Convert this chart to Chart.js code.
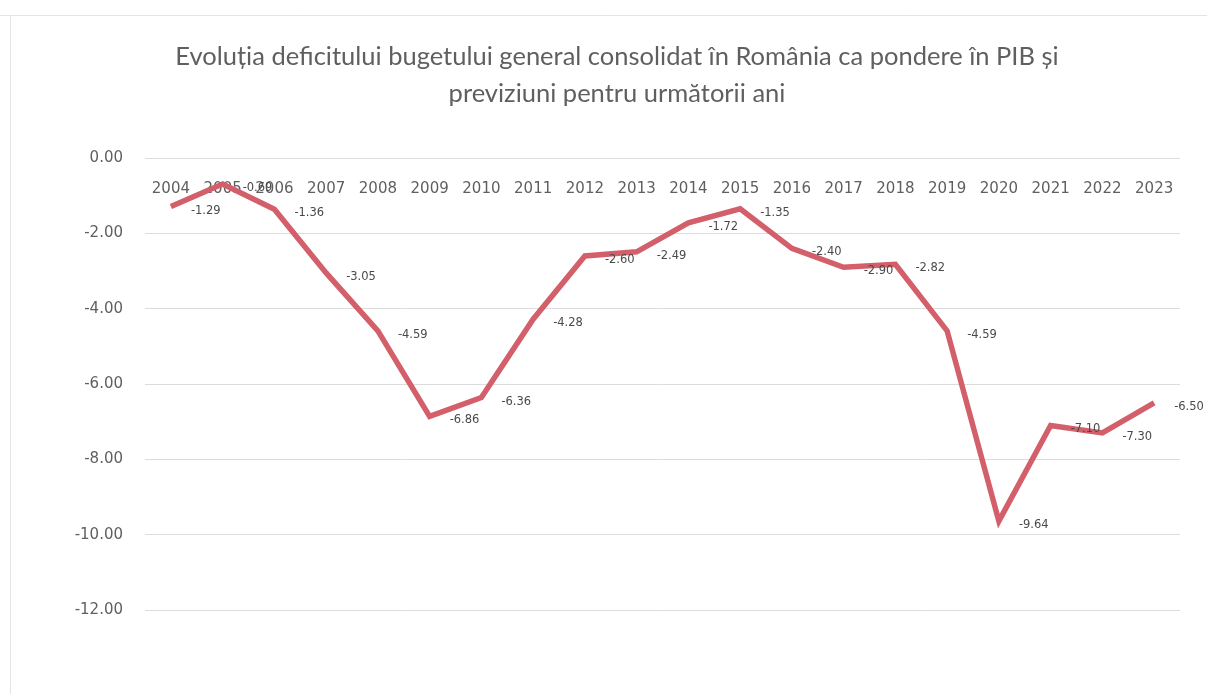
<!DOCTYPE html>
<html>
<head>
<meta charset="utf-8">
<script src="https://cdn.jsdelivr.net/npm/chart.js@4.4.1/dist/chart.umd.min.js"></script>
<style>
html,body{margin:0;padding:0;background:#fff;}
#wrap{position:relative;width:1207px;height:694px;}
</style>
</head>
<body>
<div id="wrap"><canvas id="c" width="1207" height="694"></canvas></div>
<script>
const titleLines = ["Evoluția deficitului bugetului general consolidat în România ca pondere în PIB și", "previziuni pentru următorii ani"];
const years = ["2004","2005","2006","2007","2008","2009","2010","2011","2012","2013","2014","2015","2016","2017","2018","2019","2020","2021","2022","2023"];
const deficit = [-1.29,-0.69,-1.36,-3.05,-4.59,-6.86,-6.36,-4.28,-2.60,-2.49,-1.72,-1.35,-2.40,-2.90,-2.82,-4.59,-9.64,-7.10,-7.30,-6.50];
const yMin = -12, yMax = 0, yStep = 2;

const textGray = '#5f5f5f';

const labelPlugin = {
  id: 'pointLabels',
  afterDatasetsDraw(chart) {
    const ctx = chart.ctx;
    const meta = chart.getDatasetMeta(0);
    ctx.save();
    ctx.font = '11.5px "DejaVu Sans", sans-serif';
    ctx.fillStyle = '#4a4a4a';
    ctx.textAlign = 'left';
    ctx.textBaseline = 'middle';
    meta.data.forEach((pt, i) => {
      ctx.fillText(deficit[i].toFixed(2), pt.x + 20, pt.y + 4);
    });
    ctx.restore();
  }
};

const titlePlugin = {
  id: 'titleText',
  afterDraw(chart) {
    const ctx = chart.ctx;
    ctx.save();
    ctx.font = '25.5px Lato, "Liberation Sans", sans-serif';
    ctx.fillStyle = textGray;
    ctx.textAlign = 'center';
    ctx.textBaseline = 'middle';
    titleLines.forEach((line, i) => ctx.fillText(line, 617, 57 + i * 37));
    ctx.restore();
  }
};

const framePlugin = {
  id: 'frame',
  beforeDraw(chart) {
    const ctx = chart.ctx;
    ctx.save();
    ctx.fillStyle = '#fff';
    ctx.fillRect(0, 0, chart.width, chart.height);
    ctx.strokeStyle = '#e4e4e4';
    ctx.lineWidth = 1;
    ctx.beginPath();
    ctx.moveTo(0, 15.5); ctx.lineTo(chart.width, 15.5);
    ctx.moveTo(10.5, 15); ctx.lineTo(10.5, chart.height);
    ctx.stroke();
    ctx.restore();
  }
};

new Chart(document.getElementById('c'), {
  type: 'line',
  data: {
    labels: years,
    datasets: [{
      data: deficit,
      borderColor: '#d35f6b',
      borderWidth: 5.5,
      pointRadius: 0,
      tension: 0,
      fill: false
    }]
  },
  options: {
    responsive: false,
    animation: false,
    layout: { padding: { left: 0, right: 27, top: 158, bottom: 84 } },
    plugins: {
      legend: { display: false },
      tooltip: { enabled: false },
      title: { display: false }
    },
    scales: {
      x: {
        type: 'category',
        position: { y: 0 },
        offset: true,
        grid: { display: false },
        border: { display: false },
        ticks: {
          color: textGray,
          font: { family: '"DejaVu Sans", sans-serif', size: 15 },
          padding: 14,
          maxRotation: 0,
          autoSkip: false
        }
      },
      y: {
        min: yMin,
        max: yMax,
        grid: { color: '#dcdcdc', drawTicks: false, lineWidth: 1 },
        border: { display: false },
        ticks: {
          stepSize: yStep,
          color: textGray,
          font: { family: '"DejaVu Sans", sans-serif', size: 15 },
          padding: 22,
          callback: v => Number(v).toFixed(2)
        },
        afterFit(s) { s.width = 145; }
      }
    }
  },
  plugins: [framePlugin, labelPlugin, titlePlugin]
});
</script>
</body>
</html>
